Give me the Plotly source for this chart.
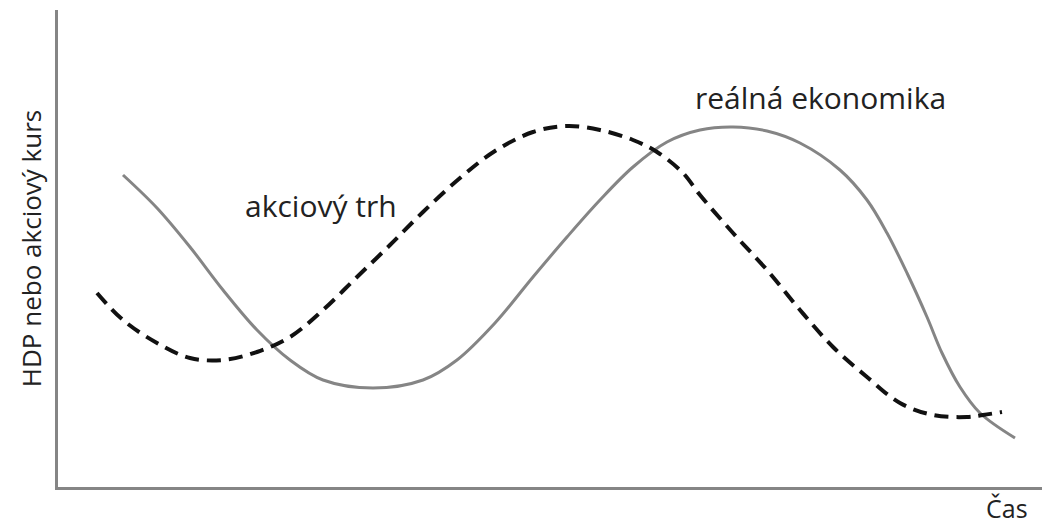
import plotly.graph_objects as go

# Křivky (x = čas, y = úroveň; souřadnice v px, y roste dolů)
REAL_X = [123, 157, 190, 223, 257, 290, 323, 373, 423, 457, 495, 533, 567, 600,
          633, 667, 700, 733, 767, 800, 840, 867, 887, 907, 927, 942, 960, 980, 1015]
REAL_Y = [175, 208, 247, 290, 330, 360, 380, 388, 380, 360, 323, 277, 237, 200,
          167, 142, 130, 127, 131, 143, 170, 200, 233, 273, 317, 353, 387, 413, 438]

STOCK_X = [97, 123, 157, 190, 223, 257, 290, 323, 357, 390, 423, 460, 495, 533,
           567, 600, 633, 657, 683, 700, 733, 767, 800, 833, 867, 900, 933, 967,
           983, 1002]
STOCK_Y = [293, 320, 343, 358, 360, 352, 337, 310, 277, 245, 212, 178, 151, 132,
           126, 130, 140, 152, 173, 195, 233, 270, 310, 347, 377, 403, 415, 417,
           415, 412]

FONT = "Open Sans"

fig = go.Figure()
fig.add_trace(go.Scatter(
    x=REAL_X, y=REAL_Y, mode="lines", name="reálná ekonomika",
    line=dict(color="#858585", width=3, shape="spline", smoothing=1.0),
))
fig.add_trace(go.Scatter(
    x=STOCK_X, y=STOCK_Y, mode="lines", name="akciový trh",
    line=dict(color="#111111", width=4, shape="spline", smoothing=1.0, dash="14px,8px"),
))

fig.add_annotation(x=820, y=97, text="reálná ekonomika", showarrow=False,
                   font=dict(family=FONT, size=30, color="#222"))
fig.add_annotation(x=321, y=205, text="akciový trh", showarrow=False,
                   font=dict(family=FONT, size=30, color="#222"))
fig.add_annotation(x=1007, xref="x", y=-0.084, yref="paper", text="Čas", showarrow=False,
                   yanchor="bottom", font=dict(family=FONT, size=25, color="#222"))

fig.update_layout(
    width=1042, height=528,
    paper_bgcolor="white", plot_bgcolor="white",
    showlegend=False,
    margin=dict(l=58, r=0, t=10, b=41),
    font=dict(family=FONT, size=22, color="#222"),
)
fig.update_xaxes(range=[58, 1042], showgrid=False, zeroline=False, showticklabels=False,
                 ticks="", showline=True, linecolor="#858585", linewidth=3, automargin=False)
fig.update_yaxes(range=[487, 10], showgrid=False, zeroline=False, showticklabels=False,
                 ticks="", showline=True, linecolor="#858585", linewidth=3, automargin=False,
                 title=dict(text="HDP nebo akciový kurs", standoff=6,
                            font=dict(family=FONT, size=26, color="#222")))

fig.write_html("out.html", config={"displayModeBar": False},
               post_script="document.body.style.margin='0';")
